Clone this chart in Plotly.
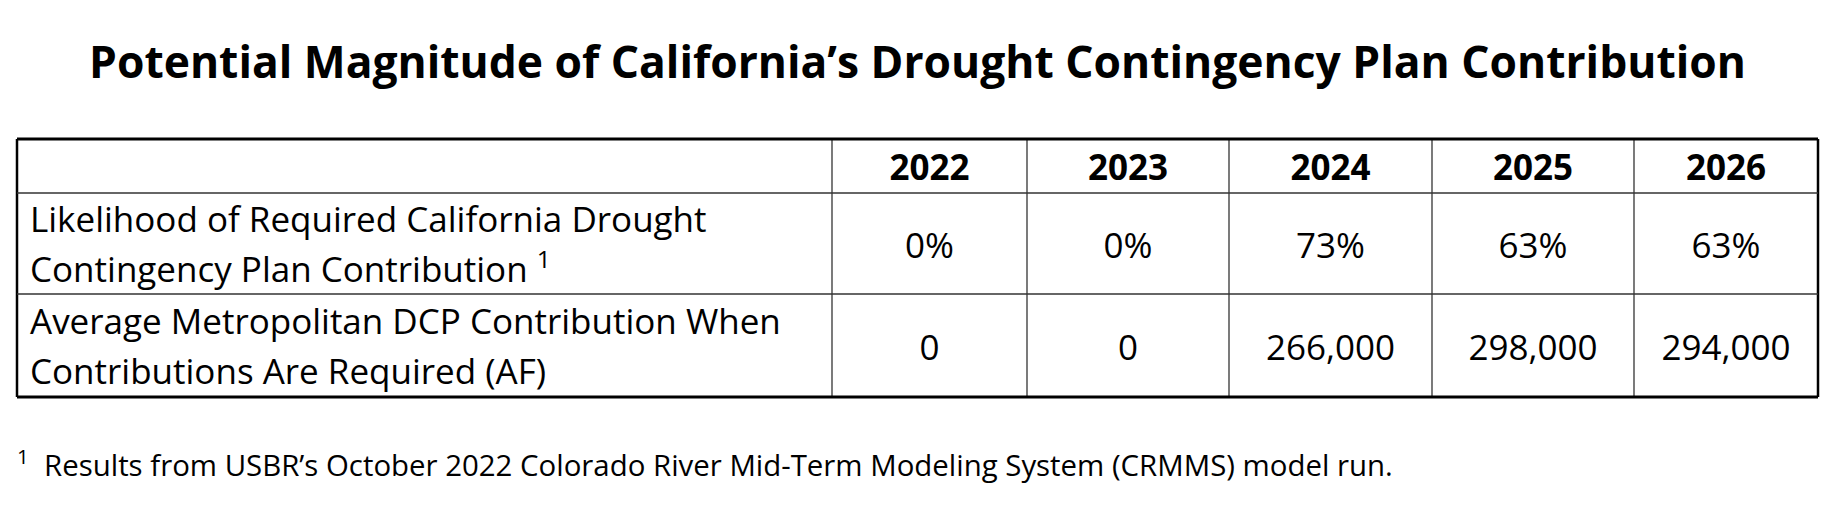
import numpy as np
import plotly.graph_objects as go

# table content
title = "Potential Magnitude of California’s Drought Contingency Plan Contribution"
years = ["2022", "2023", "2024", "2025", "2026"]
row_labels = [
    ["Likelihood of Required California Drought", "Contingency Plan Contribution <sup>1</sup>"],
    ["Average Metropolitan DCP Contribution When", "Contributions Are Required (AF)"],
]
likelihood_pct = [0, 0, 73, 63, 63]
avg_contribution_af = [0, 0, 266000, 298000, 294000]
footnote = "Results from USBR’s October 2022 Colorado River Mid-Term Modeling System (CRMMS) model run."

# geometry of the grid, in page pixels
W, H = 1846, 530
PAD = 8  # the page body margin shifts the plot by this much
left, top = 17, 139
col_w = [815, 195, 202, 203, 202, 184]
row_h = [54, 101, 103]
line_gap = 50   # spacing of the two label lines
dy = 6          # text sits a bit below the cell middle

x_edges = left + np.concatenate([[0], np.cumsum(col_w)])
y_edges = top + np.concatenate([[0], np.cumsum(row_h)])
x_mid = (x_edges[:-1] + x_edges[1:]) / 2
y_mid = (y_edges[:-1] + y_edges[1:]) / 2

FONT = "Open Sans"

fig = go.Figure()

# header years
fig.add_trace(go.Scatter(
    x=x_mid[1:], y=[y_mid[0] + dy - 1] * len(years),
    text=years, mode="text", textposition="middle center",
    textfont=dict(family=FONT, size=35, color="black", weight="bold"),
    hoverinfo="skip", showlegend=False
))

# values
val_text = [f"{v}%" for v in likelihood_pct] + [f"{v:,}" for v in avg_contribution_af]
fig.add_trace(go.Scatter(
    x=list(x_mid[1:]) * 2,
    y=[y_mid[1] + dy] * len(years) + [y_mid[2] + dy] * len(years),
    text=val_text, mode="text", textposition="middle center",
    textfont=dict(family=FONT, size=35, color="black"),
    hoverinfo="skip", showlegend=False
))

# row labels, one point per line
lx, ly, lt = [], [], []
for r, lines in enumerate(row_labels):
    for i, s in enumerate(lines):
        lx.append(x_edges[0] + 13)
        ly.append(y_mid[r + 1] + (i - 0.5) * line_gap + dy - 1)
        lt.append(s)
fig.add_trace(go.Scatter(
    x=lx, y=ly, text=lt, mode="text", textposition="middle right",
    textfont=dict(family=FONT, size=35, color="black"),
    hoverinfo="skip", showlegend=False
))

# grid lines
shapes = []
for j, x in enumerate(x_edges):
    outer = j in (0, len(x_edges) - 1)
    shapes.append(dict(type="line", xref="x", yref="y", x0=x, x1=x,
                       y0=y_edges[0], y1=y_edges[-1],
                       line=dict(color="black" if outer else "#333333",
                                 width=2.5 if outer else 1.3)))
for i, y in enumerate(y_edges):
    outer = i in (0, len(y_edges) - 1)
    shapes.append(dict(type="line", xref="x", yref="y", x0=x_edges[0], x1=x_edges[-1],
                       y0=y, y1=y,
                       line=dict(color="black" if outer else "#333333",
                                 width=2.8 if outer else 1.6)))

fig.update_layout(
    width=W, height=H,
    margin=dict(l=0, r=0, t=0, b=0),
    paper_bgcolor="white", plot_bgcolor="white",
    xaxis=dict(range=[PAD, W + PAD], visible=False, fixedrange=True),
    yaxis=dict(range=[H + PAD, PAD], visible=False, fixedrange=True),
    shapes=shapes,
    title=dict(text=title,
               x=((x_edges[0] + x_edges[-1]) / 2 - PAD) / W, xanchor="center",
               y=1 - (62 - PAD) / H, yanchor="middle",
               font=dict(family=FONT, size=44.4, color="black", weight="bold")),
    annotations=[dict(
        text="<sup>1</sup>&nbsp;&nbsp;" + footnote,
        xref="x", yref="y", x=15, y=463, xanchor="left", yanchor="middle",
        showarrow=False, font=dict(family=FONT, size=29.4, color="black")
    )],
)

fig.write_html("out.html")
